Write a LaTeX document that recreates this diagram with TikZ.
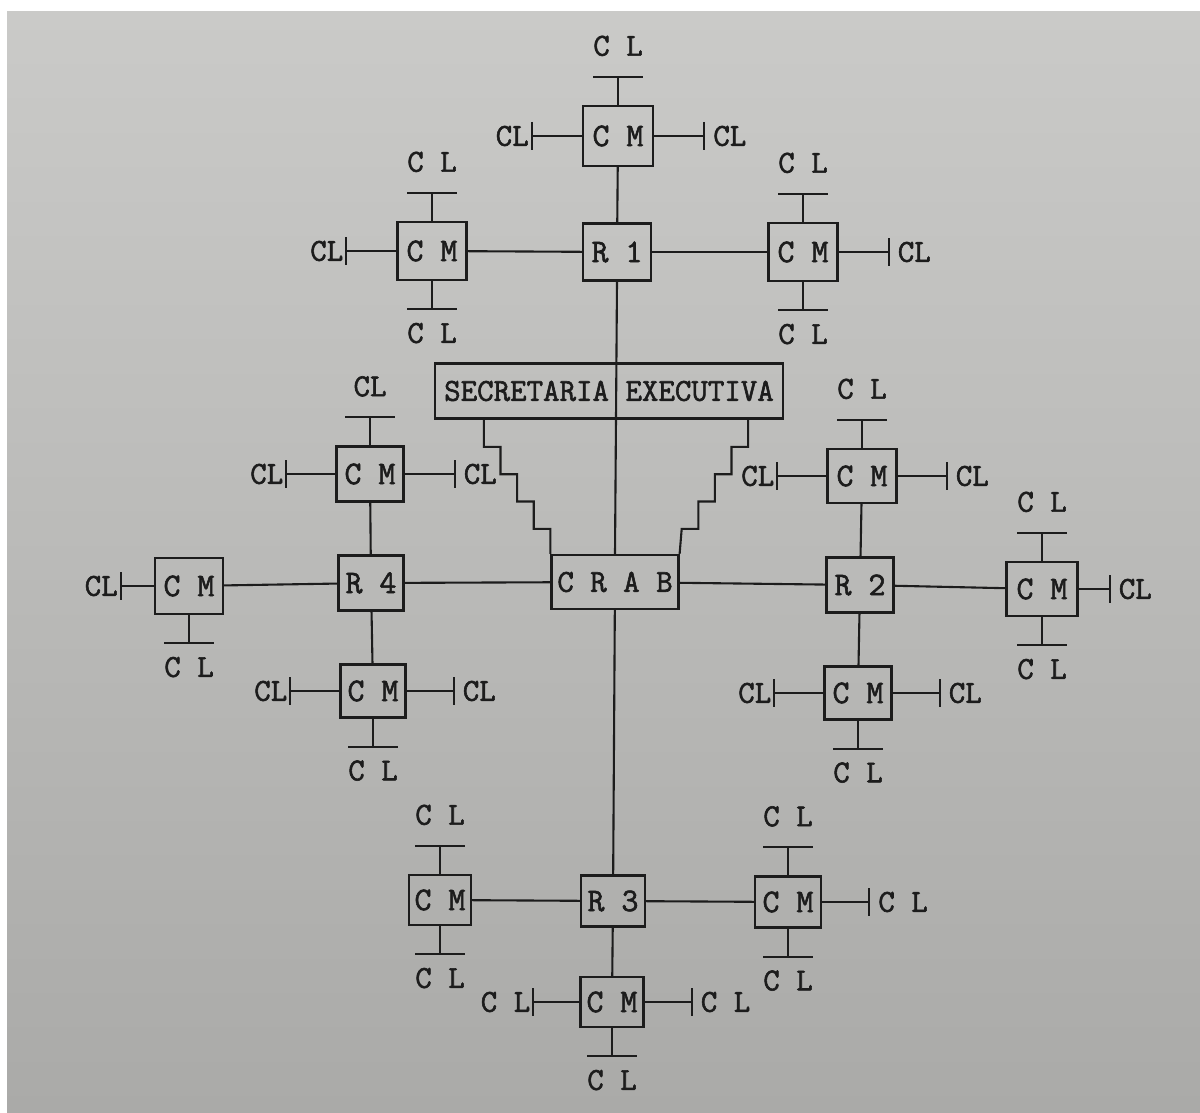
\documentclass[tikz,border=0pt]{standalone}
\usepackage{fontspec}
\setmonofont{Latin Modern Mono}[FakeBold=1.8]
\usetikzlibrary{calc}
\definecolor{ink}{RGB}{28,28,28}
\definecolor{papertop}{RGB}{202,202,200}
\definecolor{papermid}{RGB}{206,206,204}
\definecolor{paperbot}{RGB}{170,170,168}
\newcommand\fsz[1]{\ttfamily\fontsize{#1}{#1}\selectfont}
\newcommand\stubN[2]{%
  \draw[ln] (#1.north) -- ++(0,-28) coordinate (#1-n);
  \draw[ln] ($(#1-n)+(-25,0)$) -- ($(#1-n)+(25,0)$);
  \node[lbl] (#1-nl) at ($(#1-n)+(0,-31)$) {#2};}
\newcommand\stubS[2]{%
  \draw[ln] (#1.south) -- ++(0,28) coordinate (#1-s);
  \draw[ln] ($(#1-s)+(-25,0)$) -- ($(#1-s)+(25,0)$);
  \node[lbl] (#1-sl) at ($(#1-s)+(0,24)$) {#2};}
\newcommand\stubW[3]{%
  \draw[ln] (#1.west) -- ++(-#2,0) coordinate (#1-w);
  \draw[ln] ($(#1-w)+(0,-14)$) -- ($(#1-w)+(0,14)$);
  \node[lbl,anchor=east] (#1-wl) at ($(#1-w)+(-3,0)$) {#3};}
\newcommand\stubE[3]{%
  \draw[ln] (#1.east) -- ++(#2,0) coordinate (#1-e);
  \draw[ln] ($(#1-e)+(0,-14)$) -- ($(#1-e)+(0,14)$);
  \node[lbl,anchor=west] (#1-el) at ($(#1-e)+(9,0)$) {#3};}
\begin{document}
\begin{tikzpicture}[x=1pt,y=-1pt,
  box/.style 2 args={draw=ink,line width=2.2pt,minimum width=#1,minimum height=#2,
    inner sep=0pt,text=ink,font=\fsz{33}},
  ln/.style={draw=ink,line width=2.1pt},
  lbl/.style={inner sep=0pt,text=ink,font=\fsz{32}}]
\useasboundingbox (0,0) rectangle (1200,1113);
\fill[white] (0,0) rectangle (1200,1113);
\fill[top color=papertop,middle color=papermid,bottom color=paperbot] (7,12) rectangle (1200,1113);

% central nodes
\node[box={70}{60}] (cmT) at (618,136) {C M};
\node[box={68}{57}] (r1) at (617,252) {R 1};
\node[box={69}{58}] (cmA) at (432,251) {C M};
\node[box={69}{58}] (cmB) at (803,252) {C M};
\node[box={348}{55},font=\fsz{32}] (sec) at (609,391) {SECRETARIA EXECUTIVA};
\node[box={127}{54},font=\fsz{32}] (crab) at (615,582) {C R A B};
\node[box={65}{55}] (r4) at (371,583) {R 4};
\node[box={67}{55}] (cmC) at (370,474) {C M};
\node[box={68}{56}] (cmD) at (189,586) {C M};
\node[box={65}{53}] (cmE) at (373,691) {C M};
\node[box={67}{55}] (r2) at (860,585) {R 2};
\node[box={69}{54}] (cmF) at (862,476) {C M};
\node[box={71}{54}] (cmG) at (1042,589) {C M};
\node[box={67}{53}] (cmH) at (858,693) {C M};
\node[box={64}{51}] (r3) at (613,901) {R 3};
\node[box={62}{50}] (cmI) at (440,900) {C M};
\node[box={66}{51}] (cmJ) at (788,902) {C M};
\node[box={63}{50}] (cmK) at (612,1002) {C M};

% connectors
\draw[ln] (cmT) -- (r1);
\draw[ln] (r1) -- (cmA);
\draw[ln] (r1) -- (cmB);
\draw[ln] (r1.south) -- (crab.north);
\draw[ln] (crab) -- (r4);
\draw[ln] (crab) -- (r2);
\draw[ln] (crab) -- (r3);
\draw[ln] (r4) -- (cmC);
\draw[ln] (r4) -- (cmD);
\draw[ln] (r4) -- (cmE);
\draw[ln] (r2) -- (cmF);
\draw[ln] (r2) -- (cmG);
\draw[ln] (r2) -- (cmH);
\draw[ln] (r3) -- (cmI);
\draw[ln] (r3) -- (cmJ);
\draw[ln] (r3) -- (cmK);

% staircases
\draw[ln] ($(sec.south west)+(50,0)$) -- ++(0,27.3) -- ++(16.6,0) -- ++(0,27.3)
  -- ++(16.6,0) -- ++(0,27.3) -- ++(16.6,0) -- ++(0,27.3) -- ++(16.6,0) -- (crab.north west);
\draw[ln] ($(sec.south east)+(-36,0)$) -- ++(0,27.3) -- ++(-16.6,0) -- ++(0,27.3)
  -- ++(-16.6,0) -- ++(0,27.3) -- ++(-16.6,0) -- ++(0,27.3) -- ++(-16.6,0) -- (crab.north east);

% terminals
\stubN{cmT}{C L}\stubW{cmT}{50}{CL}\stubE{cmT}{50}{CL}
\stubN{cmA}{C L}\stubW{cmA}{50}{CL}\stubS{cmA}{C L}
\stubN{cmB}{C L}\stubE{cmB}{50}{CL}\stubS{cmB}{C L}
\stubN{cmC}{CL}\stubW{cmC}{49}{CL}\stubE{cmC}{50}{CL}
\stubW{cmD}{33}{CL}\stubS{cmD}{C L}
\stubW{cmE}{49}{CL}\stubE{cmE}{47}{CL}\stubS{cmE}{C L}
\stubN{cmF}{C L}\stubW{cmF}{49}{CL}\stubE{cmF}{49}{CL}
\stubN{cmG}{C L}\stubE{cmG}{31}{CL}\stubS{cmG}{C L}
\stubW{cmH}{49}{CL}\stubE{cmH}{47}{CL}\stubS{cmH}{C L}
\stubN{cmI}{C L}\stubS{cmI}{C L}
\stubN{cmJ}{C L}\stubE{cmJ}{47}{C L}\stubS{cmJ}{C L}
\stubW{cmK}{46}{C L}\stubE{cmK}{47}{C L}\stubS{cmK}{C L}
\end{tikzpicture}
\end{document}
